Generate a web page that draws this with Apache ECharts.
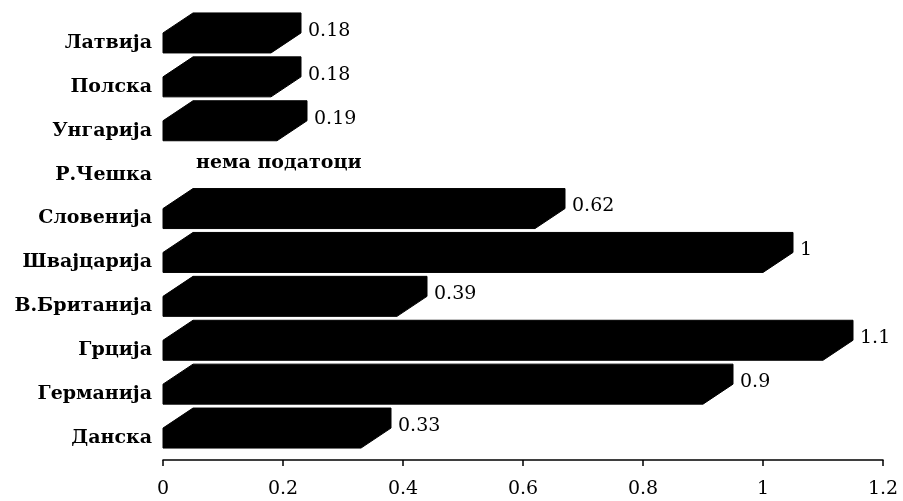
<!DOCTYPE html>
<html>
<head>
<meta charset="utf-8">
<script src="https://cdn.jsdelivr.net/npm/echarts@6/dist/echarts.min.js"></script>
<style>html,body{margin:0;padding:0;background:#fff;}#c{width:903px;height:501px;}</style>
</head>
<body>
<div id="c"></div>
<script>
const categories = ['Латвија','Полска','Унгарија','Р.Чешка','Словенија','Швајцарија','В.Британија','Грција','Германија','Данска'];
const values = [0.18, 0.18, 0.19, null, 0.62, 1, 0.39, 1.1, 0.9, 0.33];
const valueLabels = ['0.18','0.18','0.19',null,'0.62','1','0.39','1.1','0.9','0.33'];
const noDataText = 'нема податоци';
const xTicks = [0, 0.2, 0.4, 0.6, 0.8, 1, 1.2];

const chart = echarts.init(document.getElementById('c'), null, {renderer:'canvas'});
const FH = 20, DX = 30, DY = 20;
const serif = '"DejaVu Serif","Liberation Serif",serif';

const data = categories.map((c, i) => [values[i] === null ? 0 : values[i], i]);

chart.setOption({
  backgroundColor: '#fff',
  animation: false,
  grid: {left: 163, right: 20, top: 21, bottom: 41, containLabel: false},
  xAxis: {
    type: 'value', min: xTicks[0], max: xTicks[xTicks.length-1], interval: 0.2,
    axisLine: {show: true, lineStyle: {color: '#000', width: 1.5}},
    axisTick: {show: true, length: 6, lineStyle: {color: '#000', width: 1.5}},
    splitLine: {show: false},
    axisLabel: {color: '#000', fontFamily: serif, fontSize: 19, margin: 20,
      formatter: v => String(Math.round(v*10)/10)}
  },
  yAxis: {
    type: 'category', data: categories, inverse: true,
    axisLine: {show: false}, axisTick: {show: false}, splitLine: {show: false},
    axisLabel: {color: '#000', fontFamily: serif, fontWeight: 'bold', fontSize: 19, margin: 11}
  },
  series: [{
    type: 'custom',
    data: data,
    encode: {x: 0, y: 1},
    renderItem: function (params, api) {
      const i = params.dataIndex;
      const cat = api.value(1);
      const p0 = api.coord([0, cat]);
      const yc = p0[1];
      const x0 = p0[0];
      if (values[i] === null) {
        return {type: 'text', style: {x: x0 + 33, y: yc - 12, text: noDataText,
          fill: '#000', font: 'bold 19px ' + serif, textAlign: 'left', textVerticalAlign: 'middle'}};
      }
      const xv = api.coord([api.value(0), cat])[0];
      const yb = yc + FH/2, yt = yc - FH/2;
      return {type: 'group', children: [
        {type: 'polygon', shape: {points: [[x0,yb],[x0,yt],[x0+DX,yt-DY],[xv+DX,yt-DY],[xv+DX,yb-DY],[xv,yb]]},
         style: {fill: '#000', stroke: '#000', lineWidth: 1}},
        {type: 'text', style: {x: xv + DX + 7, y: yc - 12, text: valueLabels[i], fill: '#000',
          font: '19px ' + serif, textAlign: 'left', textVerticalAlign: 'middle'}}
      ]};
    }
  }]
});
</script>
</body>
</html>
